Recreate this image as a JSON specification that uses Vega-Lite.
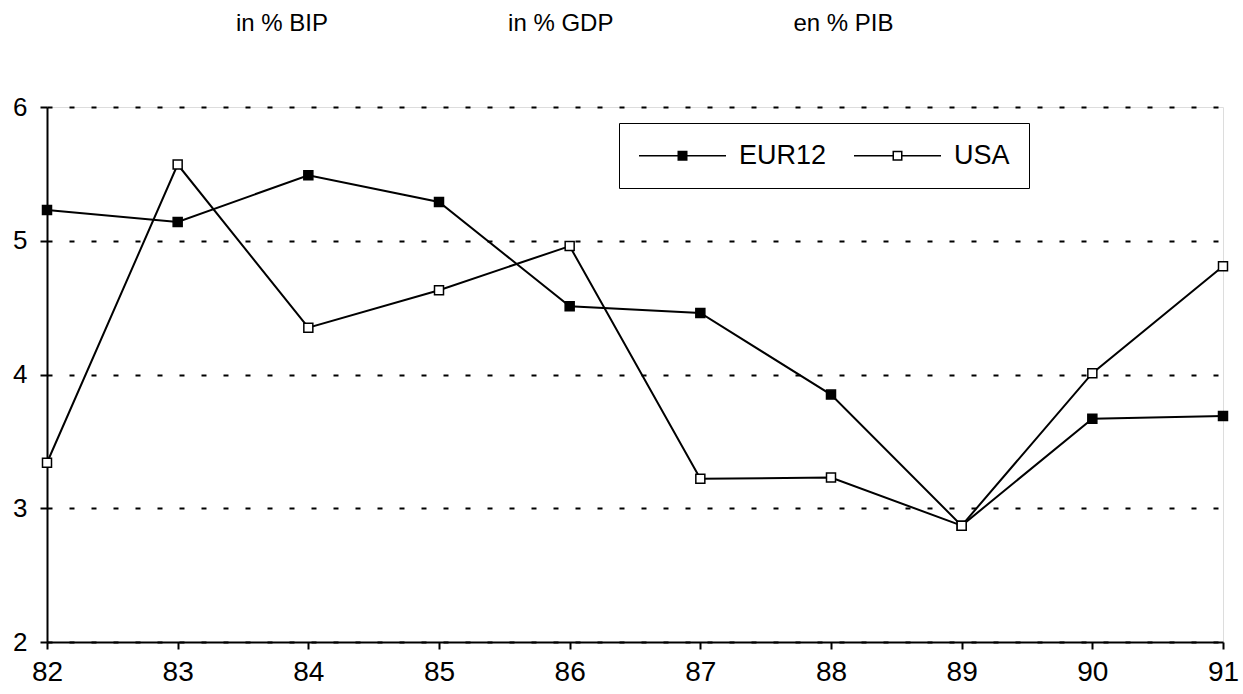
{
  "$schema": "https://vega.github.io/schema/vega-lite/v6.json",
  "width": 1176,
  "height": 535,
  "autosize": {"type": "none"},
  "padding": {"left": 47, "top": 107, "right": 20, "bottom": 52},
  "background": "white",
  "title": {
    "text": "in % BIP\u00a0\u00a0\u00a0\u00a0\u00a0\u00a0\u00a0\u00a0\u00a0\u00a0\u00a0\u00a0\u00a0\u00a0\u00a0\u00a0\u00a0\u00a0\u00a0\u00a0\u00a0\u00a0\u00a0\u00a0\u00a0\u00a0\u00a0in % GDP\u00a0\u00a0\u00a0\u00a0\u00a0\u00a0\u00a0\u00a0\u00a0\u00a0\u00a0\u00a0\u00a0\u00a0\u00a0\u00a0\u00a0\u00a0\u00a0\u00a0\u00a0\u00a0\u00a0\u00a0\u00a0\u00a0\u00a0en % PIB",
    "anchor": "start",
    "frame": "group",
    "dx": 189,
    "offset": 39,
    "baseline": "alphabetic",
    "font": "Liberation Sans",
    "fontSize": 24,
    "fontWeight": "normal",
    "color": "black"
  },
  "data": {
    "values": [
      {"year": 82, "series": "EUR12", "value": 5.23},
      {"year": 83, "series": "EUR12", "value": 5.14},
      {"year": 84, "series": "EUR12", "value": 5.49},
      {"year": 85, "series": "EUR12", "value": 5.29},
      {"year": 86, "series": "EUR12", "value": 4.51},
      {"year": 87, "series": "EUR12", "value": 4.46},
      {"year": 88, "series": "EUR12", "value": 3.85},
      {"year": 89, "series": "EUR12", "value": 2.87},
      {"year": 90, "series": "EUR12", "value": 3.67},
      {"year": 91, "series": "EUR12", "value": 3.69},
      {"year": 82, "series": "USA", "value": 3.34},
      {"year": 83, "series": "USA", "value": 5.57},
      {"year": 84, "series": "USA", "value": 4.35},
      {"year": 85, "series": "USA", "value": 4.63},
      {"year": 86, "series": "USA", "value": 4.96},
      {"year": 87, "series": "USA", "value": 3.22},
      {"year": 88, "series": "USA", "value": 3.23},
      {"year": 89, "series": "USA", "value": 2.87},
      {"year": 90, "series": "USA", "value": 4.01},
      {"year": 91, "series": "USA", "value": 4.81}
    ]
  },
  "encoding": {
    "x": {
      "field": "year",
      "type": "quantitative",
      "scale": {"domain": [82, 91], "nice": false, "zero": false},
      "axis": {
        "title": null,
        "values": [82, 83, 84, 85, 86, 87, 88, 89, 90, 91],
        "format": "d",
        "grid": false,
        "domainColor": "black",
        "domainWidth": 2,
        "tickColor": "black",
        "tickWidth": 2,
        "tickSize": 7,
        "labelPadding": 9,
        "labelFont": "Liberation Sans",
        "labelFontSize": 28,
        "labelColor": "black",
        "labelFlush": false
      }
    },
    "y": {
      "field": "value",
      "type": "quantitative",
      "scale": {"domain": [2, 6], "nice": false, "zero": false},
      "axis": {
        "title": null,
        "values": [2, 3, 4, 5, 6],
        "format": "d",
        "grid": true,
        "gridColor": "black",
        "gridWidth": 2,
        "gridDash": [5, 17],
        "domainColor": "black",
        "domainWidth": 2,
        "tickColor": "black",
        "tickWidth": 2,
        "tickSize": 7,
        "labelPadding": 13,
        "labelFont": "Liberation Sans",
        "labelFontSize": 26,
        "labelColor": "black",
        "labelFlush": false
      }
    }
  },
  "layer": [
    {
      "mark": {"type": "line", "color": "black", "strokeWidth": 2},
      "encoding": {"detail": {"field": "series", "type": "nominal"}}
    },
    {
      "mark": {"type": "point", "shape": "square", "filled": true, "size": 81, "stroke": "black", "strokeWidth": 1.5, "opacity": 1},
      "encoding": {
        "fill": {
          "field": "series",
          "type": "nominal",
          "scale": {"domain": ["EUR12", "USA"], "range": ["black", "white"]}
        }
      }
    },
    {
      "transform": [{"filter": "datum.year < 0"}],
      "mark": {"type": "point", "filled": true, "size": 100, "stroke": "black", "strokeWidth": 1.5, "opacity": 1},
      "encoding": {
        "fill": {
          "field": "series",
          "type": "nominal",
          "scale": {"domain": ["EUR12", "USA"], "range": ["black", "white"]},
          "legend": {
            "title": null,
            "orient": "none",
            "legendX": 572,
            "legendY": 16,
            "direction": "horizontal",
            "columns": 2,
            "gridAlign": "all",
            "columnPadding": 24,
            "padding": 19,
            "strokeColor": "black",
            "fillColor": "white",
            "symbolSize": 100,
            "symbolOffset": 31,
            "labelOffset": 43,
            "labelFont": "Liberation Sans",
            "labelFontSize": 27,
            "labelColor": "black"
          }
        },
        "shape": {
          "field": "series",
          "type": "nominal",
          "scale": {"domain": ["EUR12", "USA"], "range": ["M-8.7,0L-0.85,0M0.85,0L8.7,0M-0.85,-0.85L0.85,-0.85L0.85,0.85L-0.85,0.85Z", "M-8.7,0L-0.85,0M0.85,0L8.7,0M-0.85,-0.85L0.85,-0.85L0.85,0.85L-0.85,0.85Z"]},
          "legend": {
            "title": null,
            "orient": "none",
            "legendX": 572,
            "legendY": 16,
            "direction": "horizontal",
            "columns": 2,
            "gridAlign": "all",
            "columnPadding": 24,
            "padding": 19,
            "strokeColor": "black",
            "fillColor": "white",
            "symbolSize": 100,
            "symbolOffset": 31,
            "labelOffset": 43,
            "labelFont": "Liberation Sans",
            "labelFontSize": 27,
            "labelColor": "black"
          }
        }
      }
    }
  ]
}
